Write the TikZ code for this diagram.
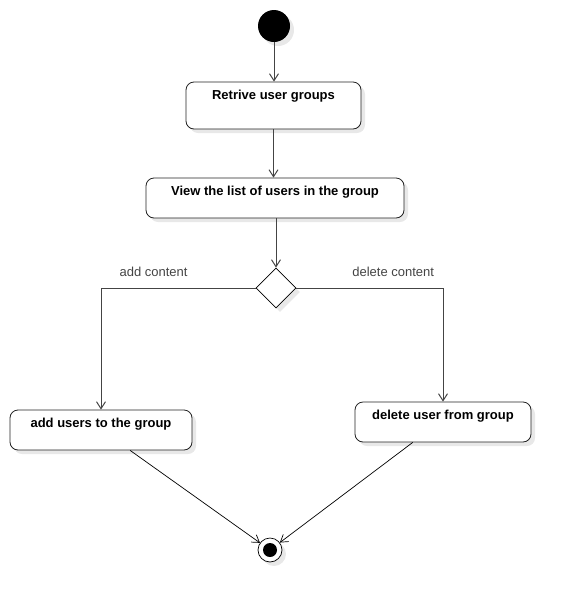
\documentclass[tikz,border=0pt]{standalone}
\usepackage{fontspec}
\setmainfont{Liberation Sans}
\usetikzlibrary{arrows.meta,shapes.geometric,shadows}
\definecolor{edge}{HTML}{444444}
\definecolor{boxline}{HTML}{222222}
\definecolor{labtext}{HTML}{444444}
\definecolor{shade}{HTML}{E8E8E8}
\tikzset{
  shad/.style={drop shadow={shadow xshift=4pt, shadow yshift=-4pt, fill=shade, opacity=1}},
  actbox/.style={draw=boxline, fill=white, line width=0.8pt, rounded corners=8pt, shad,
    inner xsep=0pt, inner ysep=0pt, text height=17pt, font=\fontsize{13}{15}\selectfont\bfseries},
  startnode/.style={circle, fill=black, minimum size=32pt, inner sep=0pt, shad},
  endnode/.style={circle, draw=black, fill=white, line width=0.7pt, minimum size=24pt, inner sep=0pt, shad,
    path picture={\fill[black] (path picture bounding box.center) circle (7pt);}},
  decide/.style={diamond, draw=black, fill=white, line width=0.8pt, minimum width=40pt, minimum height=40pt, inner sep=0pt, shad},
  flow/.style={draw=edge, line width=1pt, -{Straight Barb[length=7pt, width=9pt]}},
  flowthin/.style={draw=black, line width=0.7pt, -{Straight Barb[length=7pt, width=9pt]}},
  lab/.style={text=labtext, font=\fontsize{13}{15}\selectfont},
}
\begin{document}
\begin{tikzpicture}[x=1pt, y=-1pt]
\useasboundingbox (0,0) rectangle (571,603);
\node[startnode] (start) at (274,26) {};
\node[actbox, minimum width=175pt, minimum height=47pt, text depth=30pt] (retrive) at (273.5,105.5) {Retrive user groups};
\node[actbox, minimum width=258pt, minimum height=40pt, text depth=23pt] (listusers) at (275,198) {View the list of users in the group};
\node[decide] (decision) at (276,288) {};
\node[actbox, minimum width=182pt, minimum height=40pt, text depth=23pt] (addusers) at (101,430) {add users to the group};
\node[actbox, minimum width=176pt, minimum height=40pt, text depth=23pt] (deluser) at (443,422) {delete user from group};
\node[endnode] (final) at (270,550) {};

\draw[flow] (start) -- (retrive.north -| start);
\draw[flow] (retrive.south) -- (retrive.south |- listusers.north);
\draw[flow] (decision |- listusers.south) -- (decision.north);
\draw[flow] (decision.west) -| node[lab, pos=0.33, above=8pt] (addlab) {add content} (addusers.north);
\draw[flow] (decision.east) -| node[lab, pos=0.33, above=8pt] (dellab) {delete content} (deluser.north);
\draw[flowthin] (addusers.-35) -- (final);
\draw[flowthin] (deluser.-146) -- (final);
\end{tikzpicture}
\end{document}
